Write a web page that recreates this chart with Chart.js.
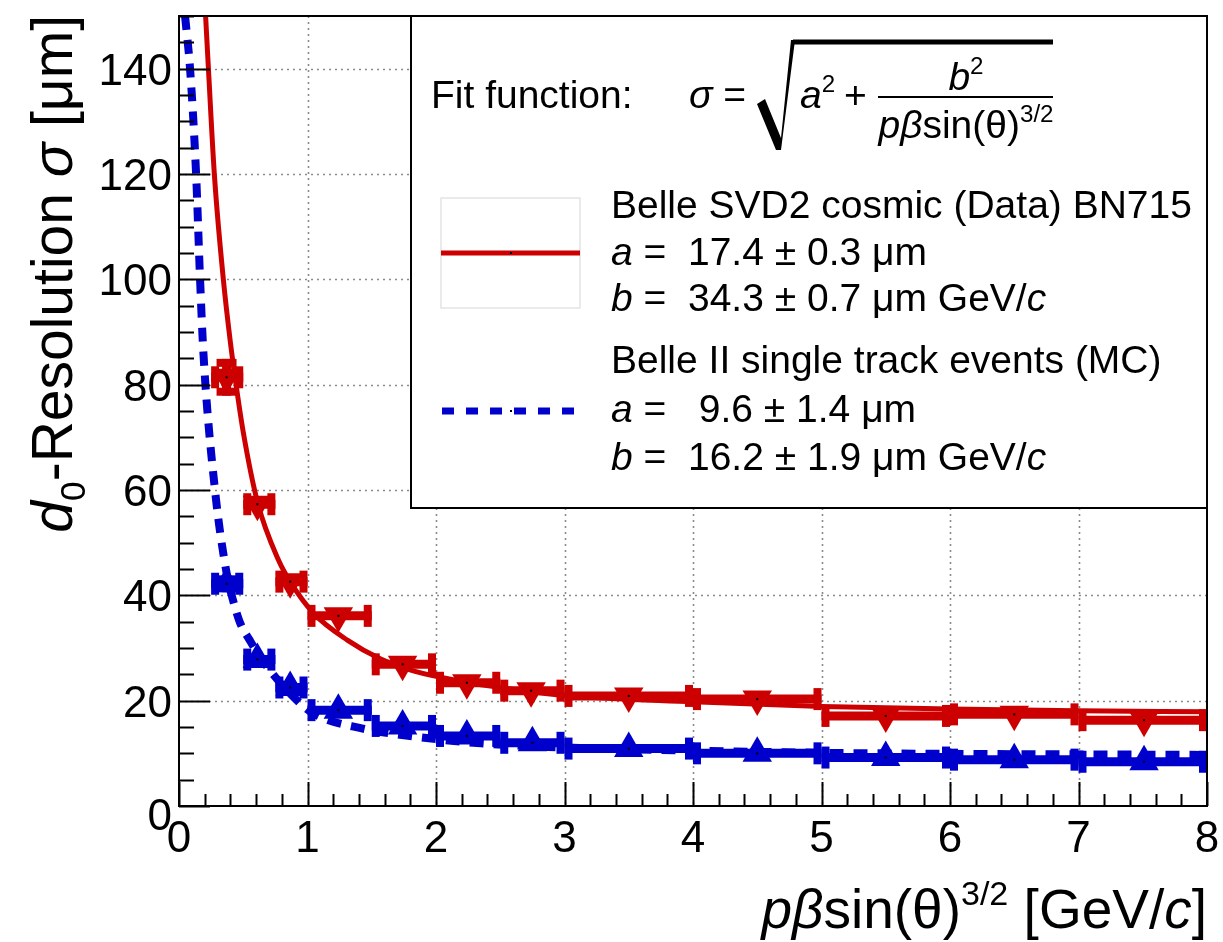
<!DOCTYPE html>
<html><head><meta charset="utf-8">
<script src="https://cdn.jsdelivr.net/npm/chart.js@4.4.0/dist/chart.umd.min.js"></script>
<style>html,body{margin:0;padding:0;background:#fff;}#wrap{width:1223px;height:942px;}</style>
</head><body><div id="wrap"><canvas id="c" width="1223" height="942"></canvas></div>
<script>
// ---- data ----
const binLo = [0.25, 0.5, 0.75, 1.0, 1.5, 2.0, 2.5, 3.0, 4.0, 5.0, 6.0, 7.0];
const binHi = [0.5, 0.75, 1.0, 1.5, 2.0, 2.5, 3.0, 4.0, 5.0, 6.0, 7.0, 8.0];
const dataX = [0.37, 0.61, 0.865, 1.24, 1.74, 2.24, 2.74, 3.50, 4.50, 5.50, 6.50, 7.51];
const dataY = [81.4, 57.3, 42.6, 36.1, 26.9, 23.4, 21.9, 20.9, 20.3, 17.1, 17.4, 16.3];
const dataYErr = [3.5, 1.0, 0.8, 0.7, 0.6, 0.5, 0.5, 0.4, 0.4, 0.4, 0.4, 0.4];
const mcX = [0.37, 0.61, 0.865, 1.24, 1.74, 2.24, 2.75, 3.50, 4.50, 5.50, 6.50, 7.51];
const mcY = [42.2, 27.8, 22.5, 18.2, 15.2, 13.3, 12.0, 10.9, 10.0, 9.2, 8.8, 8.4];
const mcYErr = [1.6, 0.8, 0.6, 0.5, 0.4, 0.4, 0.3, 0.3, 0.3, 0.3, 0.3, 0.3];
const dataFitX = [0.207, 0.229, 0.275, 0.345, 0.40, 0.436, 0.50, 0.613, 0.774, 0.865, 1.047, 1.31, 1.57, 1.83, 2.22, 2.5, 3.0, 4.0, 5.0, 6.0, 7.0, 8.0];
const dataFitY = [150, 140, 120, 100, 88, 81.4, 71, 57.5, 46.7, 42.6, 36.6, 31.5, 27.9, 25.6, 23.6, 22.5, 21.0, 19.8, 18.9, 18.4, 18.1, 17.9];
const mcFitX = [0.047, 0.086, 0.133, 0.164, 0.19, 0.28, 0.37, 0.42, 0.475, 0.55, 0.65, 0.917, 1.05, 1.43, 1.70, 2.35, 3.0, 4.0, 5.0, 6.0, 7.0, 8.0];
const mcFitY = [150, 140, 120, 100, 86, 60, 44.3, 39.1, 34.8, 31.5, 27.6, 20.1, 17.5, 14.7, 13.6, 11.9, 11.1, 10.5, 10.1, 9.9, 9.8, 9.7];
const xTicks = [0, 1, 2, 3, 4, 5, 6, 7, 8];
const yTicks = [0, 20, 40, 60, 80, 100, 120, 140];
const xMinorStep = 0.2, yMinorStep = 5;
const legendTitle = 'Fit function:';
const dataLabel = 'Belle SVD2 cosmic (Data) BN715';
const dataA = ' =  17.4 \u00b1 0.3 \u03bcm';
const dataB = ' =  34.3 \u00b1 0.7 \u03bcm GeV/';
const mcLabel = 'Belle II single track events (MC)';
const mcA = ' =   9.6 \u00b1 1.4 \u03bcm';
const mcB = ' =  16.2 \u00b1 1.9 \u03bcm GeV/';

const RED = '#cc0000', BLUE = '#0000cc';
const FONT = '"Liberation Sans", Arial, Helvetica, sans-serif';

function segFont(s, f) {
  const sz = (s.sup || s.sub) ? f * 0.62 : f;
  return (s.it ? 'italic ' : '') + sz.toFixed(1) + 'px ' + FONT;
}
function richWidth(ctx, segs, f) {
  let w = 0;
  for (const s of segs) { ctx.font = segFont(s, f); w += ctx.measureText(s.t).width; }
  return w;
}
function drawRich(ctx, segs, x, y, f, align) {
  const w = richWidth(ctx, segs, f);
  let cx = align === 'right' ? x - w : (align === 'center' ? x - w / 2 : x);
  ctx.textBaseline = 'alphabetic';
  ctx.textAlign = 'left';
  for (const s of segs) {
    ctx.font = segFont(s, f);
    const dy = s.sup ? -f * 0.42 : (s.sub ? f * 0.22 : 0);
    ctx.fillText(s.t, cx, y + dy);
    cx += ctx.measureText(s.t).width;
  }
}
function line(ctx, x1, y1, x2, y2, w, color) {
  ctx.beginPath(); ctx.moveTo(x1, y1); ctx.lineTo(x2, y2);
  ctx.lineWidth = w; ctx.strokeStyle = color; ctx.stroke();
}

const bgPlugin = {
  id: 'bg',
  beforeDatasetsDraw(chart) {
    const ctx = chart.ctx, a = chart.chartArea, xs = chart.scales.x, ys = chart.scales.y;
    ctx.save();
    // grid
    ctx.setLineDash([2, 4]);
    ctx.lineWidth = 1.6; ctx.strokeStyle = '#8a8a8a';
    for (const t of xTicks) {
      const px = Math.round(xs.getPixelForValue(t)) + 0.5;
      if (t <= xs.min || t >= xs.max) continue;
      ctx.beginPath(); ctx.moveTo(px, a.top); ctx.lineTo(px, a.bottom); ctx.stroke();
    }
    for (const t of yTicks) {
      const py = Math.round(ys.getPixelForValue(t)) + 0.5;
      if (t <= ys.min || t >= ys.max) continue;
      ctx.beginPath(); ctx.moveTo(a.left, py); ctx.lineTo(a.right, py); ctx.stroke();
    }
    ctx.setLineDash([]);
    // error bars
    const series = [[dataX, dataY, dataYErr, RED], [mcX, mcY, mcYErr, BLUE]];
    ctx.lineCap = 'butt';
    for (const [X, Y, E, col] of series) {
      for (let i = 0; i < X.length; i++) {
        const py = ys.getPixelForValue(Y[i]);
        const px = xs.getPixelForValue(X[i]);
        const x1 = xs.getPixelForValue(binLo[i]), x2 = xs.getPixelForValue(binHi[i]);
        line(ctx, x1, py, x2, py, 9, col);
        line(ctx, x1 + 4, py - 11, x1 + 4, py + 11, 8, col);
        line(ctx, x2 - 4, py - 11, x2 - 4, py + 11, 8, col);
        if (E[i] >= 1.4) {
          const y1 = ys.getPixelForValue(Y[i] + E[i]), y2 = ys.getPixelForValue(Y[i] - E[i]);
          line(ctx, px, y1, px, y2, 9, col);
          line(ctx, px - 10, y1 + 4, px + 10, y1 + 4, 8, col);
          line(ctx, px - 10, y2 - 4, px + 10, y2 - 4, 8, col);
        }
      }
    }
    ctx.restore();
  },
  afterDatasetsDraw(chart) {
    const ctx = chart.ctx, a = chart.chartArea, xs = chart.scales.x, ys = chart.scales.y;
    ctx.save();
    // centre dots
    ctx.fillStyle = '#000';
    for (const [X, Y] of [[dataX, dataY], [mcX, mcY]]) {
      for (let i = 0; i < X.length; i++) {
        ctx.fillRect(xs.getPixelForValue(X[i]) - 1, ys.getPixelForValue(Y[i]) - 1, 2, 2);
      }
    }
    // frame
    ctx.lineWidth = 2; ctx.strokeStyle = '#000';
    ctx.strokeRect(a.left, a.top, a.right - a.left, a.bottom - a.top);
    // ticks
    for (let v = 0; v <= 150 + 1e-9; v += yMinorStep) {
      const py = Math.round(ys.getPixelForValue(v)) + 0.5;
      const major = Math.abs(v % 20) < 1e-6;
      line(ctx, a.left, py, a.left + (major ? 31 : 15), py, 2, '#000');
    }
    for (let k = 0; k <= 40; k++) {
      const v = k * xMinorStep;
      const px = Math.round(xs.getPixelForValue(v)) + 0.5;
      const major = k % 5 === 0;
      line(ctx, px, a.bottom, px, a.bottom - (major ? 24 : 12), 2, '#000');
    }
    // tick labels
    ctx.fillStyle = '#000';
    ctx.font = '44px ' + FONT;
    ctx.textAlign = 'right'; ctx.textBaseline = 'alphabetic';
    for (const t of yTicks) ctx.fillText(String(t), a.left - 7, ys.getPixelForValue(t) + (t === 0 ? 24 : 16));
    ctx.textAlign = 'center';
    for (const t of xTicks) ctx.fillText(String(t), xs.getPixelForValue(t), a.bottom + 46);
    // axis titles
    ctx.fillStyle = '#000';
    drawRich(ctx, [{t: 'p', it: 1}, {t: '\u03b2', it: 1}, {t: 'sin(\u03b8)'}, {t: '3/2', sup: 1}, {t: ' [GeV/'}, {t: 'c', it: 1}, {t: ']'}],
      a.right, 928, 55, 'right');
    ctx.save();
    ctx.translate(72, a.top - 1);
    ctx.rotate(-Math.PI / 2);
    drawRich(ctx, [{t: 'd', it: 1}, {t: '0', sub: 1}, {t: '-Resolution '}, {t: '\u03c3', it: 1}, {t: ' [\u03bcm]'}], 0, 0, 57, 'right');
    ctx.restore();

    // legend box
    const L = 411, T = a.top, R = a.right, B = 508;
    ctx.fillStyle = '#fff';
    ctx.fillRect(L, T, R - L, B - T);
    ctx.lineWidth = 2; ctx.strokeStyle = '#000';
    ctx.strokeRect(L, T, R - L, B - T);
    ctx.fillStyle = '#000';
    const f = 39;
    drawRich(ctx, [{t: legendTitle}], 431, 108, f, 'left');
    drawRich(ctx, [{t: '\u03c3', it: 1}, {t: ' ='}], 689, 108, f, 'left');
    // radical
    ctx.beginPath();
    ctx.moveTo(757, 104); ctx.lineTo(765, 99); ctx.lineTo(781, 138); ctx.lineTo(791, 40);
    ctx.lineTo(795, 40); ctx.lineTo(781, 150); ctx.lineTo(776, 150); ctx.closePath();
    ctx.fillStyle = '#000'; ctx.fill();
    line(ctx, 793, 42, 1053, 42, 5, '#000');
    drawRich(ctx, [{t: 'a', it: 1}, {t: '2', sup: 1}], 800, 108, f, 'left');
    drawRich(ctx, [{t: '+'}], 844, 108, f, 'left');
    line(ctx, 878, 97, 1053, 97, 2, '#000');
    drawRich(ctx, [{t: 'b', it: 1}, {t: '2', sup: 1}], 966, 90, f, 'center');
    drawRich(ctx, [{t: 'p', it: 1}, {t: '\u03b2', it: 1}, {t: 'sin(\u03b8)'}, {t: '3/2', sup: 1}], 966, 138, f, 'center');
    // entry 1
    ctx.lineWidth = 1.5; ctx.strokeStyle = '#e4e4e4';
    ctx.strokeRect(441, 198, 139, 110);
    line(ctx, 441, 253, 580, 253, 5, RED);
    ctx.fillStyle = '#000'; ctx.fillRect(510, 252, 2, 2);
    drawRich(ctx, [{t: dataLabel}], 611, 218, f, 'left');
    drawRich(ctx, [{t: 'a', it: 1}, {t: dataA}], 611, 265, f, 'left');
    drawRich(ctx, [{t: 'b', it: 1}, {t: dataB}, {t: 'c', it: 1}], 611, 311, f, 'left');
    // entry 2
    ctx.setLineDash([12, 12]);
    line(ctx, 442, 411, 578, 411, 7, BLUE);
    ctx.setLineDash([]);
    ctx.fillStyle = '#000'; ctx.fillRect(510, 410, 2, 2);
    drawRich(ctx, [{t: mcLabel}], 611, 373, f, 'left');
    drawRich(ctx, [{t: 'a', it: 1}, {t: mcA}], 611, 422, f, 'left');
    drawRich(ctx, [{t: 'b', it: 1}, {t: mcB}, {t: 'c', it: 1}], 611, 470, f, 'left');
    ctx.restore();
  }
};

function pts(X, Y) { return X.map((x, i) => ({x: x, y: Y[i]})); }

new Chart(document.getElementById('c'), {
  type: 'scatter',
  data: {
    datasets: [
      {label: 'data', data: pts(dataX, dataY), pointStyle: 'triangle', rotation: 180, pointRadius: 17,
       pointHoverRadius: 17, backgroundColor: RED, borderWidth: 0, showLine: false},
      {label: 'mc', data: pts(mcX, mcY), pointStyle: 'triangle', rotation: 0, pointRadius: 17,
       pointHoverRadius: 17, backgroundColor: BLUE, borderWidth: 0, showLine: false},
      {label: 'dataFit', data: pts(dataFitX, dataFitY), showLine: true, pointRadius: 0, borderColor: RED,
       borderWidth: 5, cubicInterpolationMode: 'monotone', fill: false},
      {label: 'mcFit', data: pts(mcFitX, mcFitY), showLine: true, pointRadius: 0, borderColor: BLUE,
       borderWidth: 8, borderDash: [14, 10], borderCapStyle: 'butt', cubicInterpolationMode: 'monotone', fill: false}
    ]
  },
  options: {
    responsive: false, animation: false, devicePixelRatio: 1,
    layout: {autoPadding: false, padding: {left: 179, right: 16, top: 16, bottom: 136}},
    plugins: {legend: {display: false}, tooltip: {enabled: false}},
    events: [],
    scales: {
      x: {type: 'linear', min: 0, max: 8, display: false},
      y: {type: 'linear', min: 0, max: 150, display: false}
    }
  },
  plugins: [bgPlugin]
});
</script></body></html>
